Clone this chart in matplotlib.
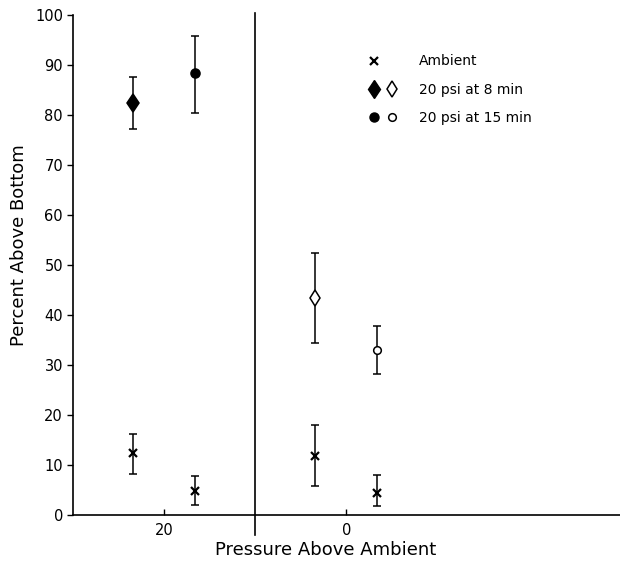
import numpy as np
import matplotlib
matplotlib.use("Agg")
import matplotlib.pyplot as plt
from matplotlib.lines import Line2D
from matplotlib.legend_handler import HandlerTuple

# =====================
# DATA
# =====================
# x = pressure above ambient (psi), points set a little either side of 20 and 0
amb_x = [23.4, 16.6, 3.4, -3.4]
amb_y = [12.4, 4.8, 11.8, 4.4]
amb_lo = [8.2, 2.0, 5.8, 1.8]
amb_hi = [16.3, 7.9, 18.0, 8.0]

min8_x = [23.4, 3.4]
min8_y = [82.3, 43.4]
min8_lo = [77.1, 34.4]
min8_hi = [87.5, 52.4]
min8_filled = [True, False]

min15_x = [16.6, -3.4]
min15_y = [88.4, 33.1]
min15_lo = [80.3, 28.2]
min15_hi = [95.7, 37.8]
min15_filled = [True, False]

divider_x = 10
x_ticks = [20, 0]
y_ticks = list(range(0, 101, 10))

# =====================
# STYLE
# =====================
plt.rcParams.update({
    "font.family": "DejaVu Sans",
    "font.size": 10,
})

fig = plt.figure(figsize=(6.2, 5.68), dpi=100)
ax = fig.add_axes([0.1173, 0.0933, 0.8827, 0.8803])


def err(y, lo, hi):
    y = np.array(y)
    return [y - np.array(lo), np.array(hi) - y]


# ambient
ax.errorbar(amb_x, amb_y, yerr=err(amb_y, amb_lo, amb_hi), fmt="none",
            ecolor="black", elinewidth=1.1, capsize=3, capthick=1.1, zorder=2)
ax.plot(amb_x, amb_y, "x", color="black", ms=6, mew=1.6, zorder=3)

# 8 min (diamonds) and 15 min (circles)
for xs, ys, los, his, filled, mk, ms in [
    (min8_x, min8_y, min8_lo, min8_hi, min8_filled, "d", 9.5),
    (min15_x, min15_y, min15_lo, min15_hi, min15_filled, "o", 6.5),
]:
    ax.errorbar(xs, ys, yerr=err(ys, los, his), fmt="none", ecolor="black",
                elinewidth=1.1, capsize=3, capthick=1.1, zorder=2)
    for x, y, f in zip(xs, ys, filled):
        ax.plot(x, y, mk, ms=ms if f else ms - 1, mec="black", mew=1.1,
                mfc="black" if f else "white", zorder=3)

# divider between the two pressure groups
ax.plot([divider_x, divider_x], [-4, 100.4], color="black", lw=1.2,
        clip_on=False, zorder=1)

ax.set_xlim(30, -30)
ax.set_ylim(0, 100)
ax.set_xticks(x_ticks)
ax.set_xticklabels([str(t) for t in x_ticks])
ax.set_yticks(y_ticks)

ax.spines["top"].set_visible(False)
ax.spines["right"].set_visible(False)
ax.spines["left"].set_linewidth(1.2)
ax.spines["bottom"].set_linewidth(1.2)
ax.tick_params(axis="y", direction="out", length=4, width=1, labelsize=10.5, pad=3)
ax.tick_params(axis="x", direction="in", length=4, width=1, labelsize=10.5, pad=6)

ax.set_xlabel("Pressure Above Ambient", fontsize=13)
ax.xaxis.set_label_coords(0.463, -0.052)
ax.set_ylabel("Percent Above Bottom", fontsize=13)
ax.yaxis.set_label_coords(-0.082, 0.539)

# =====================
# LEGEND
# =====================
blank = Line2D([], [], linestyle="none", marker="none")
h_amb = Line2D([], [], linestyle="none", marker="x", color="black", ms=6, mew=1.6)
h_d_f = Line2D([], [], linestyle="none", marker="d", ms=9.5, mfc="black", mec="black")
h_d_o = Line2D([], [], linestyle="none", marker="d", ms=8.5, mfc="white", mec="black", mew=1.1)
h_c_f = Line2D([], [], linestyle="none", marker="o", ms=6.5, mfc="black", mec="black")
h_c_o = Line2D([], [], linestyle="none", marker="o", ms=5.5, mfc="white", mec="black", mew=1.1)

ax.legend([(h_amb, blank), (h_d_f, h_d_o), (h_c_f, h_c_o)],
          ["Ambient", "20 psi at 8 min", "20 psi at 15 min"],
          handler_map={tuple: HandlerTuple(ndivide=None, pad=0.3)},
          loc="upper left", bbox_to_anchor=(0.516, 0.946), frameon=False,
          handlelength=2.2, handletextpad=1.5, labelspacing=1.02,
          fontsize=10, borderpad=0.4)

plt.savefig("out.png", dpi=100)
